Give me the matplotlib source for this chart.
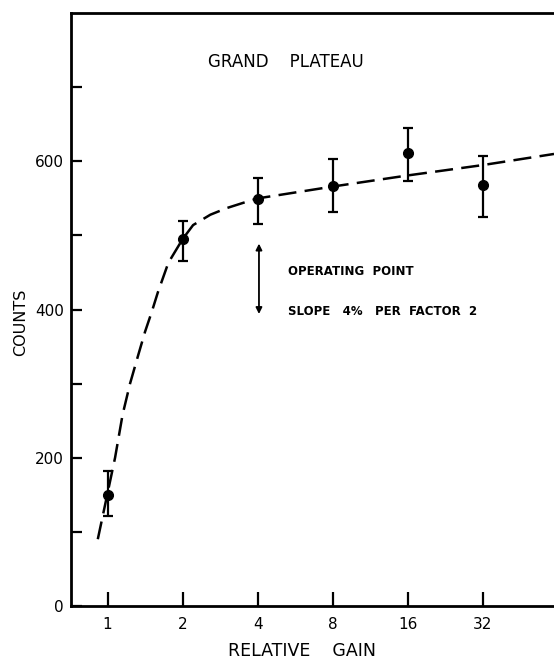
import matplotlib
matplotlib.use("Agg")
from matplotlib import pyplot as plt
from matplotlib.ticker import FixedLocator, NullFormatter

# measured points
gain = [1, 2, 4, 8, 16, 32]
counts = [150, 495, 549, 567, 611, 568]
err_lo = [121, 466, 516, 531, 574, 525]
err_hi = [182, 519, 578, 603, 645, 607]

# dashed curve
curve_gain = [0.914, 1.0, 1.072, 1.149, 1.231, 1.329, 1.414, 1.505, 1.591,
              1.753, 2.0, 2.204, 2.585, 3.011, 3.732, 4, 8, 16, 32, 61.8]
curve_counts = [90, 152, 200, 258, 300, 339, 370, 397, 423,
                463, 495, 514, 528, 537, 547, 550, 566, 581, 595, 610]

xticks = [1, 2, 4, 8, 16, 32]
xtick_labels = ["1", "2", "4", "8", "16", "32"]
yticks = [0, 200, 400, 600]
yticks_minor = [100, 300, 500, 700]

plt.rcParams["lines.scale_dashes"] = False
plt.rcParams["font.family"] = "DejaVu Sans"

fig = plt.figure(figsize=(5.54, 6.60), dpi=100)
ax = fig.add_axes([0.128, 0.082, 0.872, 0.898])

ax.plot(curve_gain, curve_counts, color="black", lw=1.8, dashes=(13, 6))

yerr = [[c - lo for c, lo in zip(counts, err_lo)],
        [hi - c for c, hi in zip(counts, err_hi)]]
ax.errorbar(gain, counts, yerr=yerr, fmt="o", color="black", ms=7,
            elinewidth=1.6, capsize=3.5, capthick=1.6)

ax.set_xscale("log", base=2)
ax.set_xlim(0.713, 61.8)
ax.set_ylim(0, 800)
ax.xaxis.set_major_locator(FixedLocator(xticks))
ax.set_xticklabels(xtick_labels)
ax.xaxis.set_minor_locator(FixedLocator([]))
ax.xaxis.set_minor_formatter(NullFormatter())
ax.yaxis.set_major_locator(FixedLocator(yticks))
ax.yaxis.set_minor_locator(FixedLocator(yticks_minor))

for s in ["left", "bottom", "top"]:
    ax.spines[s].set_linewidth(2)
ax.spines["right"].set_visible(False)

ax.tick_params(axis="x", which="major", direction="in", length=10, width=1.6,
               labelsize=11, pad=8)
ax.tick_params(axis="y", which="both", direction="in", length=8, width=1.6,
               labelsize=11, pad=5)

ax.text(5.2, 734, "GRAND    PLATEAU", ha="center", va="center", fontsize=12)
ax.annotate("", xy=(4.05, 394), xytext=(4.05, 489),
            arrowprops=dict(arrowstyle="<|-|>", color="black", lw=1.3,
                            mutation_scale=9, shrinkA=0, shrinkB=0))
ax.text(5.3, 452, "OPERATING  POINT", ha="left", va="center", fontsize=8.5,
        fontweight="bold")
ax.text(5.3, 398, "SLOPE   4%   PER  FACTOR  2", ha="left", va="center",
        fontsize=8.5, fontweight="bold")

fig.text(302 / 554, 1 - 651 / 660, "RELATIVE    GAIN", ha="center", va="center",
         fontsize=12.5)
fig.text(21 / 554, 1 - 322 / 660, "COUNTS", ha="center", va="center",
         rotation=90, fontsize=11.5)

fig.savefig("out.png", dpi=100)
